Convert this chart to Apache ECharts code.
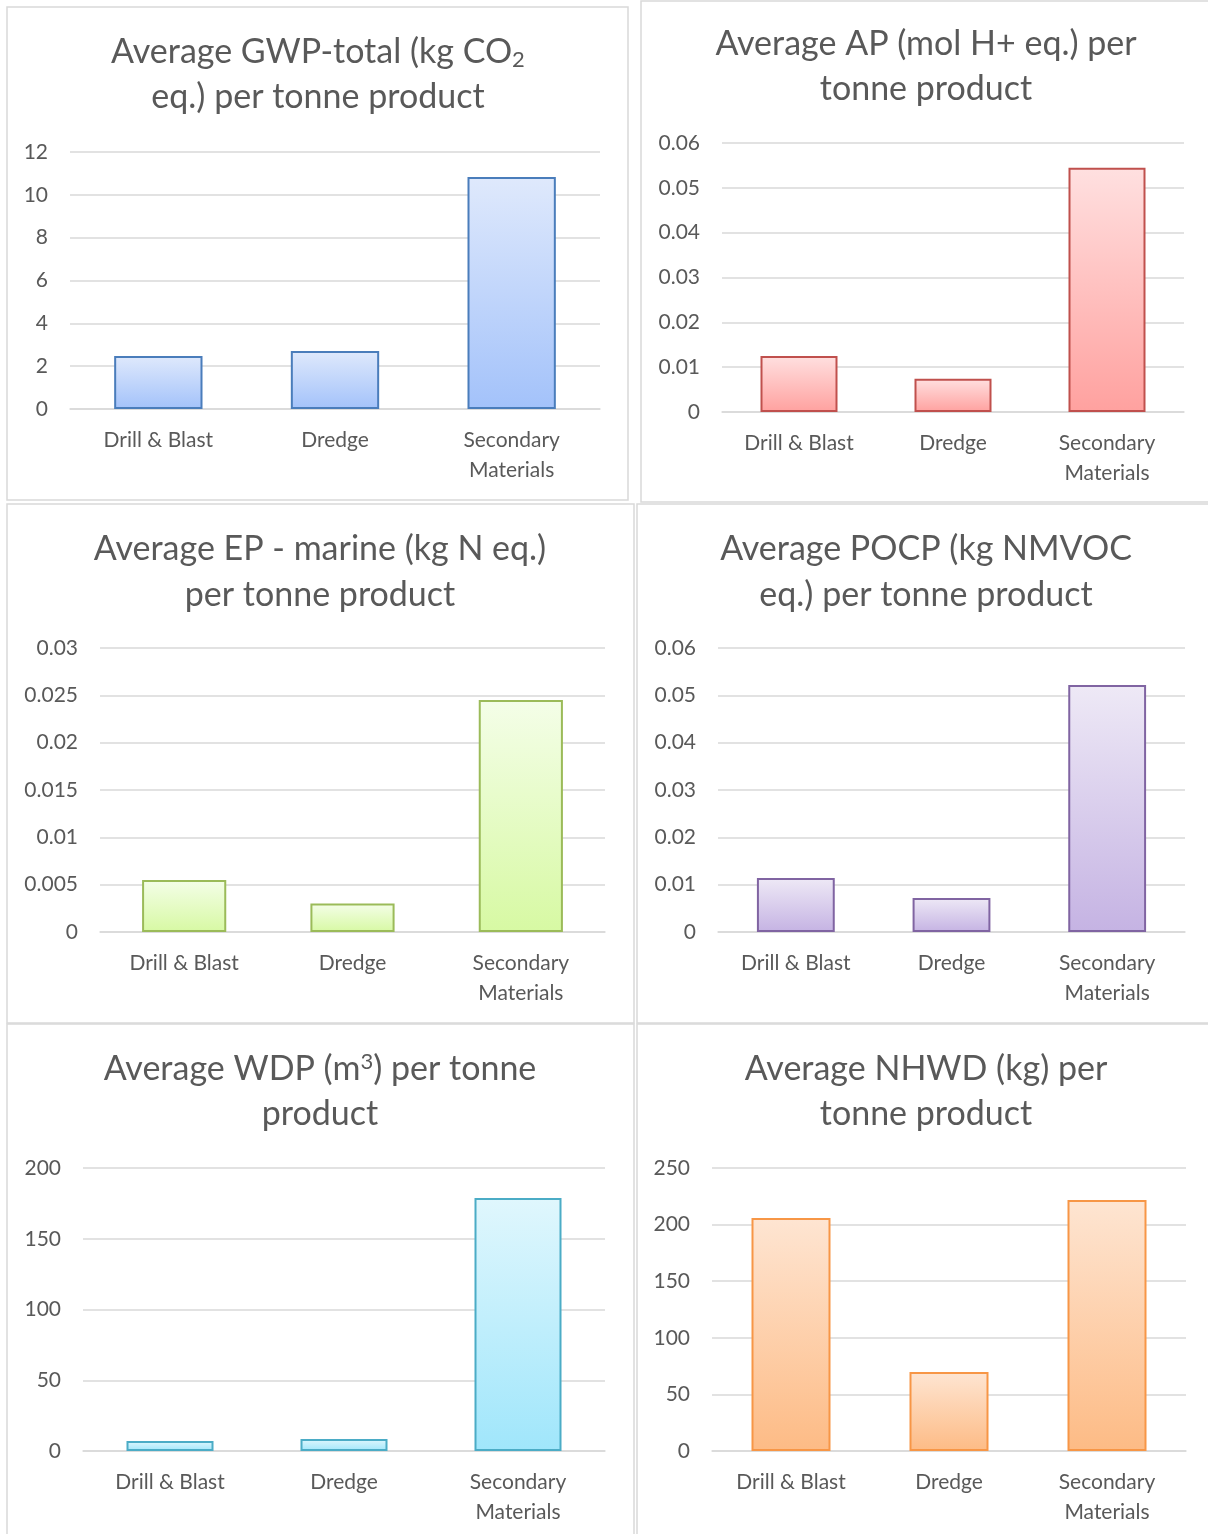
<!DOCTYPE html>
<html>
<head>
<meta charset="utf-8">
<script src="https://cdn.jsdelivr.net/npm/echarts@6/dist/echarts.min.js"></script>
<style>
html,body{margin:0;padding:0;background:#fff;}
#c{width:1208px;height:1534px;}
</style>
</head>
<body>
<div id="c"></div>
<script>
// ---- data ----
const categories = ['Drill & Blast', 'Dredge', 'Secondary Materials'];
const gwpValues = [2.48, 2.71, 10.83];
const apValues = [0.0125, 0.0074, 0.0545];
const epValues = [0.0055, 0.003, 0.0245];
const pocpValues = [0.0114, 0.0072, 0.0522];
const wdpValues = [7.1, 8.5, 178.8];
const nhwdValues = [205.8, 69.8, 221.7];
const gwpTicks = {min: 0, max: 12, interval: 2};
const apTicks = {min: 0, max: 0.06, interval: 0.01};
const epTicks = {min: 0, max: 0.03, interval: 0.005};
const pocpTicks = {min: 0, max: 0.06, interval: 0.01};
const wdpTicks = {min: 0, max: 200, interval: 50};
const nhwdTicks = {min: 0, max: 250, interval: 50};

const FONT = 'Lato';
const TXT = '#595959';

const panels = [
  {values: gwpValues, ticks: gwpTicks, grid: {left: 70, top: 152, width: 530, height: 257},
   box: [7, 7, 621, 493], tx: 318, ty: [52, 97],
   title: ['Average GWP-total (kg CO{sub|2}', 'eq.) per tonne product'],
   border: '#4a7dbb', c0: '#dfe9fc', c1: '#a3c2fa'},
  {values: apValues, ticks: apTicks, grid: {left: 722, top: 143, width: 462, height: 269},
   box: [641, 1, 570, 501], tx: 926, ty: [44, 89],
   title: ['Average AP (mol H+ eq.) per', 'tonne product'],
   border: '#c0504d', c0: '#ffe0e0', c1: '#ffa19f'},
  {values: epValues, ticks: epTicks, grid: {left: 100, top: 648, width: 505, height: 284},
   box: [7, 504, 627, 519], tx: 320, ty: [549, 595],
   title: ['Average EP - marine (kg N eq.)', 'per tonne product'],
   border: '#9bbb59', c0: '#f4fee8', c1: '#d7f9a3'},
  {values: pocpValues, ticks: pocpTicks, grid: {left: 718, top: 648, width: 467, height: 284},
   box: [637, 504, 573, 519], tx: 926, ty: [549, 595],
   title: ['Average POCP (kg NMVOC', 'eq.) per tonne product'],
   border: '#8064a2', c0: '#eee9f6', c1: '#c5b3e3'},
  {values: wdpValues, ticks: wdpTicks, grid: {left: 83, top: 1168, width: 522, height: 283},
   box: [7, 1024, 627, 512], tx: 320, ty: [1069, 1114],
   title: ['Average WDP (m{sup|3}) per tonne', 'product'],
   border: '#4bacc6', c0: '#e0f7fd', c1: '#a0e6fb'},
  {values: nhwdValues, ticks: nhwdTicks, grid: {left: 712, top: 1168, width: 474, height: 283},
   box: [637, 1024, 573, 512], tx: 926, ty: [1069, 1114],
   title: ['Average NHWD (kg) per', 'tonne product'],
   border: '#f79646', c0: '#fee5d2', c1: '#fdbb85'}
];

const grids = [], xAxes = [], yAxes = [], series = [], graphics = [];
panels.forEach((p, i) => {
  grids.push(Object.assign({containLabel: false}, p.grid));
  xAxes.push({
    type: 'category', gridIndex: i, data: categories,
    axisLine: {show: true, lineStyle: {color: '#d9d9d9', width: 1.5}},
    axisTick: {show: false},
    axisLabel: {color: TXT, fontFamily: FONT, fontSize: 21, lineHeight: 30, margin: 16,
      interval: 0, formatter: v => v.replace(' Materials', '\nMaterials')}
  });
  yAxes.push({
    type: 'value', gridIndex: i, min: p.ticks.min, max: p.ticks.max, interval: p.ticks.interval,
    axisLine: {show: false}, axisTick: {show: false},
    splitLine: {lineStyle: {color: '#d9d9d9', width: 1.5}},
    axisLabel: {color: TXT, fontFamily: FONT, fontSize: 21, margin: 22}
  });
  series.push({
    type: 'bar', xAxisIndex: i, yAxisIndex: i, data: p.values, barCategoryGap: '50%',
    itemStyle: {
      borderColor: p.border, borderWidth: 2,
      color: new echarts.graphic.LinearGradient(0, 0, 0, 1, [
        {offset: 0, color: p.c0}, {offset: 1, color: p.c1}])
    },
    emphasis: {disabled: true}
  });
  graphics.push({
    type: 'rect', shape: {x: p.box[0], y: p.box[1], width: p.box[2], height: p.box[3]},
    style: {fill: null, stroke: '#d9d9d9', lineWidth: 1.5}, z: -1
  });
  p.title.forEach((t, k) => {
    graphics.push({
      type: 'text', x: p.tx, y: p.ty[k],
      style: {
        text: t, align: 'center', verticalAlign: 'middle',
        fill: TXT, font: '34px ' + FONT,
        rich: {
          sub: {fontSize: 22, fontFamily: FONT, fill: TXT, padding: [16, 0, 0, 0]},
          sup: {fontSize: 22, fontFamily: FONT, fill: TXT, padding: [0, 0, 14, 0]}
        }
      }
    });
  });
});

const chart = echarts.init(document.getElementById('c'), null, {renderer: 'canvas'});
chart.setOption({
  animation: false,
  backgroundColor: '#ffffff',
  textStyle: {fontFamily: FONT},
  grid: grids, xAxis: xAxes, yAxis: yAxes, series: series,
  graphic: graphics
});
</script>
</body>
</html>
